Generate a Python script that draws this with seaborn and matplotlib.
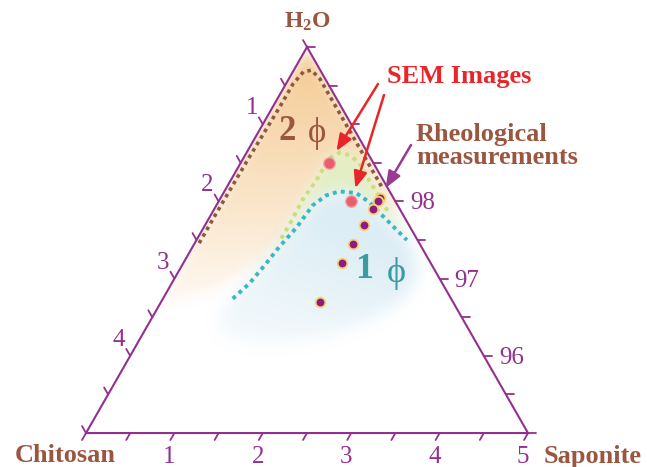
import numpy as np
import pandas as pd
import matplotlib
matplotlib.use("Agg")
import matplotlib.pyplot as plt
from matplotlib.path import Path
from matplotlib.patches import Polygon
import seaborn as sns

# ---------------- data (wt% chitosan, wt% saponite; water = 100 - both) ----------------
sem_chitosan = [0.5, 0.5]
sem_saponite = [1.0, 1.5]

rheo_chitosan = [0.15, 0.2, 0.3, 0.5, 0.75, 1.0, 1.5]
rheo_saponite = [1.8, 1.8, 1.8, 1.8, 1.8, 1.8, 1.8]

# two-phase boundary (brown dotted)
two_phase_chitosan = [2.49, 2.10, 1.37, 0.68, 0.40, 0.20, 0.10, 0.06, 0.06, 0.06, 0.06, 0.06, 0.06]
two_phase_saponite = [0.05, 0.05, 0.06, 0.08, 0.08, 0.12, 0.20, 0.35, 0.72, 1.02, 1.34, 1.57, 1.75]

# intermediate boundary (yellow-green dotted)
mid_chitosan = [1.53, 1.30, 1.04, 0.73, 0.47, 0.32, 0.22, 0.16, 0.16, 0.15, 0.15]
mid_saponite = [0.95, 0.95, 0.94, 0.97, 0.97, 1.05, 1.18, 1.34, 1.57, 1.79, 1.97]

# one-phase boundary (cyan dotted)
one_phase_chitosan = [2.47, 2.18, 1.86, 1.61, 1.29, 0.96, 0.74, 0.57, 0.39, 0.30, 0.24, 0.17, 0.12]
one_phase_saponite = [0.79, 0.88, 0.94, 0.98, 1.05, 1.09, 1.18, 1.30, 1.50, 1.71, 1.94, 2.20, 2.38]

# shaded regions
orange_chitosan = [0.0, 3.4, 2.6, 1.9] + mid_chitosan + [0.0]
orange_saponite = [0.0, 0.0, 0.55, 0.85] + mid_saponite + [2.15]
green_chitosan = mid_chitosan + [0.08] + one_phase_chitosan[::-1]
green_saponite = mid_saponite + [2.2] + one_phase_saponite[::-1]
blue_chitosan = one_phase_chitosan + [0.13, 0.23, 0.53, 1.06, 1.74, 2.46, 2.83, 2.75]
blue_saponite = one_phase_saponite + [2.56, 2.73, 2.74, 2.48, 2.03, 1.40, 0.90, 0.73]

# axis ticks / labels
bottom_ticks = [0, 0.5, 1, 1.5, 2, 2.5, 3, 3.5, 4, 4.5, 5]          # saponite
left_ticks = [0, 0.5, 1, 1.5, 2, 2.5, 3, 3.5, 4, 4.5, 5]            # chitosan
right_ticks = [100, 99.5, 99, 98.5, 98, 97.5, 97, 96.5, 96, 95.5, 95]  # water
bottom_labels = ["1", "2", "3", "4", "5"]
bottom_label_vals = [1, 2, 3, 4, 5]
left_labels = ["1", "2", "3", "4"]
left_label_vals = [1, 2, 3, 4]
right_labels = ["98", "97", "96"]
right_label_vals = [98, 97, 96]

# ---------------- style ----------------
sns.set_style("white")
plt.rcParams["font.family"] = ["Liberation Serif", "DejaVu Serif"]
plt.rcParams["mathtext.fontset"] = "custom"
plt.rcParams["mathtext.rm"] = "Liberation Serif"
plt.rcParams["mathtext.bf"] = "Liberation Serif:bold"

PURPLE = "#93308f"
BROWN = "#9b5640"
RED = "#e8262a"
TEAL = "#3b9ba3"
PHI = "\u03d5"

SQ = np.sqrt(3) / 2


def to_xy(chitosan, saponite):
    c = np.asarray(chitosan, float)
    s = np.asarray(saponite, float)
    h = 5.0 - c - s  # water - 95
    return s + 0.5 * h, SQ * h


fig = plt.figure(figsize=(6.47, 4.67), dpi=100)
ax = fig.add_axes([0, 0, 1, 1])
ax.axis("off")

# triangle
L = to_xy(5, 0)
R = to_xy(0, 5)
A = to_xy(0, 0)
tri = np.array([[float(L[0]), float(L[1])], [float(R[0]), float(R[1])], [float(A[0]), float(A[1])]])
tri_patch = Polygon(tri, closed=True, transform=ax.transData, facecolor="none", edgecolor="none")
ax.add_patch(tri_patch)

# ---------------- soft shaded regions ----------------
gx = np.linspace(-0.2, 5.2, 541)
gy = np.linspace(-0.2, 4.55, 476)
GX, GY = np.meshgrid(gx, gy)
pts = np.column_stack([GX.ravel(), GY.ravel()])


def box_blur(a, r):
    k = 2 * r + 1
    for axis in (0, 1):
        pad = [(0, 0), (0, 0)]
        pad[axis] = (r, r)
        p = np.pad(a, pad, mode="edge")
        c = np.cumsum(p, axis=axis)
        zshape = list(c.shape)
        zshape[axis] = 1
        c = np.concatenate([np.zeros(zshape), c], axis=axis)
        if axis == 0:
            a = (c[k:, :] - c[:-k, :]) / k
        else:
            a = (c[:, k:] - c[:, :-k]) / k
    return a


def soft_mask(cs, ss, r=5, n=3):
    x, y = to_xy(cs, ss)
    m = Path(np.column_stack([x, y])).contains_points(pts).reshape(GX.shape).astype(float)
    for _ in range(n):
        m = box_blur(m, r)
    return m


def draw_region(cs, ss, rgb, alpha, r=5, n=3):
    m = soft_mask(cs, ss, r, n)
    img = np.zeros(GX.shape + (4,))
    img[..., 0] = rgb[0]
    img[..., 1] = rgb[1]
    img[..., 2] = rgb[2]
    img[..., 3] = np.clip(m * alpha, 0, 1)
    im = ax.imshow(img, extent=(gx[0], gx[-1], gy[0], gy[-1]), origin="lower",
                   interpolation="bilinear", aspect="auto", zorder=1)
    im.set_clip_path(tri_patch)


# orange: strong at apex, fading downwards
orange_alpha = 0.85 * np.clip((GY - 1.2) / (4.0 - 1.2), 0, 1) ** 0.9
draw_region(orange_chitosan, orange_saponite, (244 / 255, 198 / 255, 138 / 255), orange_alpha, r=6, n=3)
# green band
green_alpha = 0.55 * np.clip((GY - 1.4) / (2.9 - 1.4), 0.35, 1)
draw_region(green_chitosan, green_saponite, (206 / 255, 226 / 255, 150 / 255), green_alpha, r=5, n=3)
# blue blob
blue_alpha = 0.5 * np.clip(0.2 + 0.8 * (GY + 0.35 * GX - 1.4) / 1.9, 0.12, 1)
draw_region(blue_chitosan, blue_saponite, (186 / 255, 220 / 255, 236 / 255), blue_alpha, r=8, n=3)

# ---------------- frame and ticks ----------------
ax.plot(np.append(tri[:, 0], tri[0, 0]), np.append(tri[:, 1], tri[0, 1]),
        color=PURPLE, lw=1.5, solid_joinstyle="miter", zorder=4)

TL = 0.09  # tick length (data units)
for v in bottom_ticks:
    x, y = to_xy(5 - v, v)
    x, y = float(x), float(y)
    ax.plot([x, x - 0.5 * TL], [y, y - SQ * TL], color=PURPLE, lw=1.3, zorder=4)
for v in left_ticks:
    x, y = to_xy(v, 0)
    x, y = float(x), float(y)
    ax.plot([x, x - 0.5 * TL], [y, y + SQ * TL], color=PURPLE, lw=1.3, zorder=4)
for v in right_ticks:
    x, y = to_xy(0, 100 - v)
    x, y = float(x), float(y)
    ax.plot([x, x + TL], [y, y], color=PURPLE, lw=1.3, zorder=4)

for lab, v in zip(bottom_labels, bottom_label_vals):
    x, y = to_xy(5 - v, v)
    ax.annotate(lab, xy=(float(x), float(y)), xytext=(-5, -13), textcoords="offset pixels",
                ha="center", va="top", fontsize=18, color=PURPLE, zorder=5)
for lab, v in zip(left_labels, left_label_vals):
    x, y = to_xy(v, 0)
    ax.annotate(lab, xy=(float(x), float(y)), xytext=(-11, 16), textcoords="offset pixels",
                ha="center", va="center", fontsize=18, color=PURPLE, zorder=5)
for lab, v in zip(right_labels, right_label_vals):
    x, y = to_xy(0, 100 - v)
    ax.annotate(lab, xy=(float(x), float(y)), xytext=(15, -2), textcoords="offset pixels",
                ha="left", va="center", fontsize=18, color=PURPLE, zorder=5)

# ---------------- boundaries ----------------
def boundary_df(cs, ss):
    x, y = to_xy(cs, ss)
    return pd.DataFrame({"x": x, "y": y, "order": np.arange(len(x))})


sns.lineplot(data=boundary_df(two_phase_chitosan, two_phase_saponite), x="x", y="y",
             sort=False, estimator=None, color="#8e5a3e", lw=2.6,
             linestyle=(0, (1, 1.1)), dash_capstyle="butt", ax=ax, zorder=3)
sns.lineplot(data=boundary_df(mid_chitosan, mid_saponite), x="x", y="y",
             sort=False, estimator=None, color="#c9de7c", lw=2.8,
             linestyle=(0, (1, 1.2)), dash_capstyle="butt", ax=ax, zorder=3)
sns.lineplot(data=boundary_df(one_phase_chitosan, one_phase_saponite), x="x", y="y",
             sort=False, estimator=None, color="#3cb6c6", lw=2.8,
             linestyle=(0, (1, 1.1)), dash_capstyle="butt", ax=ax, zorder=3)

# ---------------- points ----------------
sx, sy = to_xy(rheo_chitosan, rheo_saponite)
rheo_df = pd.DataFrame({"x": sx, "y": sy})
sns.scatterplot(data=rheo_df, x="x", y="y", s=48, color="#8b1b86",
                edgecolor="#f6d36b", linewidth=1.3, ax=ax, zorder=6)
ex, ey = to_xy(sem_chitosan, sem_saponite)
sem_df = pd.DataFrame({"x": ex, "y": ey})
sns.scatterplot(data=sem_df, x="x", y="y", s=70, color="#ea5f6b",
                edgecolor="#f5a6aa", linewidth=1.0, ax=ax, zorder=6)

# ---------------- annotations ----------------
def P(xp, yp):
    return (xp / 647.0, 1 - yp / 467.0)


fig.text(*P(307, 22), r"$\mathbf{H_2O}$", ha="center", va="center", fontsize=17, color=BROWN)
fig.text(*P(65, 456), "Chitosan", ha="center", va="center", fontsize=19, fontweight="bold", color=BROWN)
fig.text(*P(593, 456), "Saponite", ha="center", va="center", fontsize=19, fontweight="bold", color=BROWN)

fig.text(*P(287, 131), "2", ha="center", va="center", fontsize=25, fontweight="bold", color=BROWN)
fig.text(*P(317, 134), PHI, ha="center", va="center", fontsize=25, color=BROWN)
fig.text(*P(364, 270), "1", ha="center", va="center", fontsize=26, fontweight="bold", color=TEAL)
fig.text(*P(396, 273), PHI, ha="center", va="center", fontsize=26, color=TEAL)

fig.text(*P(459, 77), "SEM Images", ha="center", va="center", fontsize=19, fontweight="bold", color=RED)
fig.text(*P(416, 146), "Rheological\nmeasurements", ha="left", va="center", fontsize=19,
         fontweight="bold", color=BROWN, linespacing=1.05)

arrow_red = dict(arrowstyle="-|>,head_length=1.0,head_width=0.4", color=RED, lw=1.8,
                 shrinkA=0, shrinkB=10, mutation_scale=10)
ax.annotate("", xy=(float(ex[0]), float(ey[0])), xytext=P(378, 84), textcoords="figure fraction",
            arrowprops=arrow_red, zorder=7)
ax.annotate("", xy=(float(ex[1]), float(ey[1])), xytext=P(384, 95), textcoords="figure fraction",
            arrowprops=arrow_red, zorder=7)
arrow_purple = dict(arrowstyle="-|>,head_length=1.0,head_width=0.4", color="#9a3a95", lw=1.8,
                    shrinkA=0, shrinkB=8, mutation_scale=10)
ax.annotate("", xy=(float(sx[0]), float(sy[0])), xytext=P(411, 145), textcoords="figure fraction",
            arrowprops=arrow_purple, zorder=7)

ax.set_xlim(-0.973, 6.346)
ax.set_ylim(-0.381, 4.858)
legend = ax.get_legend()
if legend is not None:
    legend.remove()

fig.savefig("out.png", dpi=100)
